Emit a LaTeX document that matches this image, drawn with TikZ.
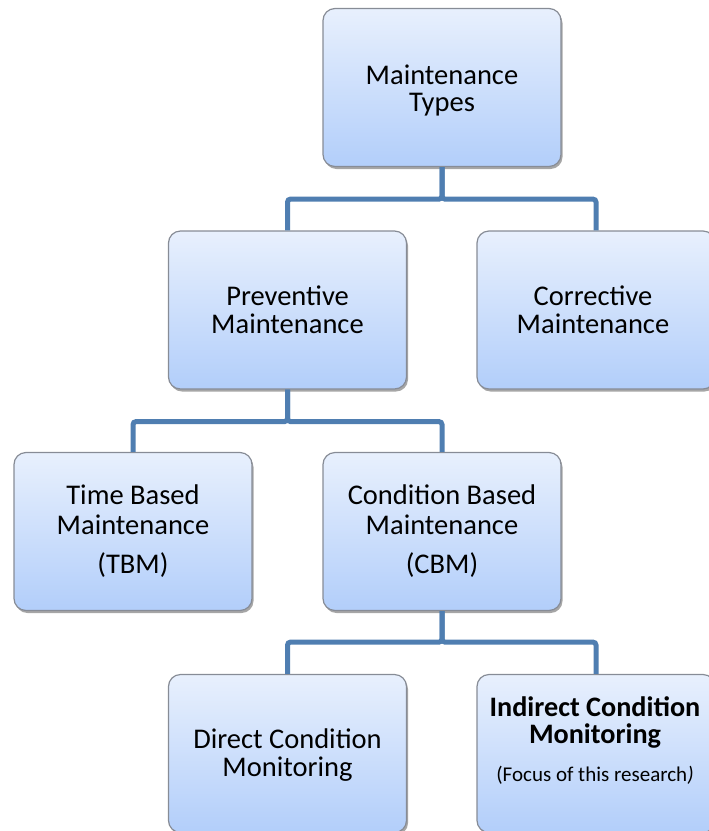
\documentclass[tikz,border=0pt]{standalone}
\usepackage{fontspec}
\setmainfont{Carlito}
\usetikzlibrary{shadows}
\definecolor{connc}{RGB}{79,126,177}
\definecolor{boxtop}{RGB}{232,240,253}
\definecolor{boxbot}{RGB}{178,206,250}
\definecolor{boxline}{RGB}{135,140,150}
\begin{document}
\begin{tikzpicture}[x=1pt,y=-1pt,
  box/.style={rectangle, rounded corners=12pt, minimum width=238pt, minimum height=158pt,
    inner sep=0pt, draw=boxline, line width=1.2pt, top color=boxtop, bottom color=boxbot,
    drop shadow={shadow xshift=1.5pt, shadow yshift=-2.5pt, opacity=0.35, fill=black}},
  txt/.style={anchor=base, inner sep=0pt, font=\fontsize{28.5}{28.5}\selectfont},
  txtb/.style={txt, font=\fontsize{28.2}{28.2}\selectfont\bfseries},
  txts/.style={anchor=base, inner sep=0pt, font=\fontsize{21}{21}\selectfont},
  conn/.style={draw=connc, line width=5pt, rounded corners=3pt}
]
\useasboundingbox (0,0) rectangle (709,831);
\clip (0,0) rectangle (709,831);

% boxes
\node[box] (top) at (442,87.5) {};
\node[box] (prev) at (287.5,310) {};
\node[box] (corr) at (596,310) {};
\node[box] (tbm) at (133,531.5) {};
\node[box] (cbm) at (442,531.5) {};
\node[box] (dir) at (287.5,753.5) {};
\node[box] (ind) at (596,753.5) {};

% connectors
\draw[conn] (top.south) -- ++(0,32) -| (prev.north);
\draw[conn] (top.south) -- ++(0,32) -| (corr.north);
\draw[conn] (prev.south) -- ++(0,32) -| (tbm.north);
\draw[conn] (prev.south) -- ++(0,32) -| (cbm.north);
\draw[conn] (cbm.south) -- ++(0,31) -| (dir.north);
\draw[conn] (cbm.south) -- ++(0,31) -| (ind.north);

% texts
\node[txt] (t1a) at (442,84) {Maintenance};
\node[txt] (t1b) at (442,111) {Types};
\node[txt] (t2a) at (287.5,305) {Preventive};
\node[txt] (t2b) at (287.5,333) {Maintenance};
\node[txt] (t3a) at (593,305) {Corrective};
\node[txt] (t3b) at (593,333) {Maintenance};
\node[txt] (t4a) at (133,504) {Time Based};
\node[txt] (t4b) at (133,534) {Maintenance};
\node[txt] (t4c) at (133,573) {(TBM)};
\node[txt] (t5a) at (442,504) {Condition Based};
\node[txt] (t5b) at (442,534) {Maintenance};
\node[txt] (t5c) at (442,573) {(CBM)};
\node[txt] (t6a) at (287.5,748) {Direct Condition};
\node[txt] (t6b) at (287.5,776) {Monitoring};
\node[txtb] (t7a) at (595,716) {Indirect Condition};
\node[txtb] (t7b) at (595,743) {Monitoring};
\node[txts] (t7c) at (595,781) {(Focus of this research\textit{)}};
\end{tikzpicture}
\end{document}
